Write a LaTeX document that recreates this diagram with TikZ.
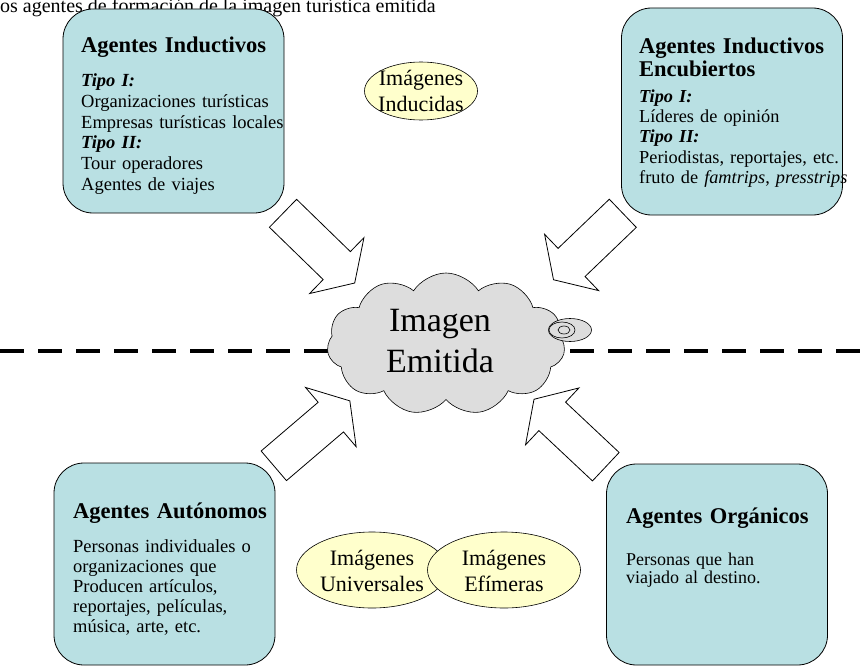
\documentclass[tikz,border=0pt]{standalone}
\usepackage{fontspec}
\setmainfont{Liberation Serif}
\usetikzlibrary{shapes.symbols}
\usetikzlibrary{shapes.geometric}
\usetikzlibrary{positioning}
\definecolor{agentblue}{HTML}{B9E0E3}
\definecolor{imgyellow}{HTML}{FFFFCC}
\definecolor{cloudgrey}{HTML}{DDDDDD}

\tikzset{
	agentbox/.style={
		draw,
		line width=0.8pt,
		fill=agentblue,
		rounded corners=30pt,
		minimum width=221pt,
		minimum height=204pt,
		inner sep=0pt,
	},
	agenttitle/.style={
		anchor=north west,
		align=left,
		text width=220pt,
		inner sep=0pt,
		font=\fontsize{22.5}{23}\selectfont\bfseries,
	},
	agenttext/.style={
		anchor=north west,
		align=left,
		text width=230pt,
		inner sep=0pt,
		font=\fontsize{18.5}{20.5}\selectfont,
	},
	imgellipse/.style={
		draw,
		ellipse,
		line width=0.6pt,
		fill=imgyellow,
		inner sep=0pt,
	},
	imgtext/.style={
		align=center,
		inner sep=0pt,
		font=\fontsize{22}{26}\selectfont,
	},
	bubble/.style={
		draw,
		ellipse,
		line width=0.6pt,
		fill=cloudgrey,
		inner sep=0pt,
	},
	blockarrow/.style={
		draw,
		line width=0.8pt,
		fill=white,
		line join=miter,
	},
	pics/bigarrow/.style={
		code={
			\draw[blockarrow] (0,-19.5) -- ({#1-25},-19.5) -- ({#1-25},-39) -- (#1,0)
				-- ({#1-25},39) -- ({#1-25},19.5) -- (0,19.5) -- cycle;
		}
	},
}

\begin{document}
\begin{tikzpicture}[x=1pt,y=1pt]
\useasboundingbox (0,0) rectangle (861,-666);

\node[anchor=base west, inner sep=0pt, font=\fontsize{20}{24}\selectfont] (titulo) at (0,-12.5)
	{os agentes de formación de la imagen turística emitida};

\draw[line width=4pt, dash pattern=on 24pt off 14pt] (0,-351) -- (861,-351);

\pic[rotate=-44.2] at (283,-213.3) {bigarrow=100};
\pic[rotate=-136.2] at (622.8,-213.3) {bigarrow=96};
\pic[rotate=40.5] at (273.8,-465.8) {bigarrow=100};
\pic[rotate=136.8] at (605.8,-466.7) {bigarrow=98.5};

\node[cloud, cloud puffs=11, cloud puff arc=115, aspect=1.7, draw, line width=0.6pt,
	fill=cloudgrey, minimum width=238pt, minimum height=142pt, inner sep=0pt] (emitida) at (446,-344) {};
\node[align=center, inner sep=0pt, font=\fontsize{34}{41}\selectfont] (emitidatxt) at (440,-341)
	{Imagen\\Emitida};
\node[bubble, minimum width=43pt, minimum height=23pt] (burbuja) at (570,-330) {};
\node[bubble, minimum width=26pt, minimum height=16pt] (burbujamed) at (562,-330) {};
\node[bubble, minimum width=12pt, minimum height=8pt] (burbujamin) at (564,-330) {};

\node[agentbox] (induc) at (173.5,-111) {};
\node[agentbox, minimum height=207pt] (encub) at (732,-111.5) {};
\node[agentbox, minimum height=202pt] (auton) at (164.5,-564) {};
\node[agentbox, minimum height=201pt] (organ) at (717,-564.5) {};

\node[agenttitle] (inductit) at (81,-36.7) {Agentes Inductivos};
\node[agenttext, font=\fontsize{18.5}{20.8}\selectfont] (inductxt) at (81,-73.5) {%
	\textbf{\textit{Tipo I:}}\\
	Organizaciones turísticas\\
	Empresas turísticas locales\\
	\textbf{\textit{Tipo II:}}\\
	Tour operadores\\
	Agentes de viajes};

\node[agenttitle] (encubtit) at (639,-37.7) {Agentes Inductivos\\Encubiertos};
\node[agenttext, font=\fontsize{18.3}{20.25}\selectfont] (encubtxt) at (639,-89.5) {%
	\textbf{\textit{Tipo I:}}\\
	Líderes de opinión\\
	\textbf{\textit{Tipo II:}}\\
	Periodistas, reportajes, etc.\\
	fruto de \textit{famtrips}, \textit{presstrips}};

\node[agenttitle] (autontit) at (73,-502.5) {Agentes Autónomos};
\node[agenttext, font=\fontsize{18.5}{20}\selectfont] (autontxt) at (73,-539.5) {%
	Personas individuales o\\
	organizaciones que\\
	Producen artículos,\\
	reportajes, películas,\\
	música, arte, etc.};

\node[agenttitle] (organtit) at (626,-507.5) {Agentes Orgánicos};
\node[agenttext, font=\fontsize{18}{18}\selectfont] (organtxt) at (626,-552.5) {%
	Personas que han\\
	viajado al destino.};

\node[imgellipse, minimum width=113pt, minimum height=58pt] (inducidas) at (421,-91) {};
\node[imgtext] (inducidastxt) at (421,-91) {Imágenes\\Inducidas};

\node[imgellipse, minimum width=151pt, minimum height=76pt] (universales) at (372,-570) {};
\node[imgellipse, minimum width=153pt, minimum height=76pt] (efimeras) at (504,-570) {};
\node[imgtext] (universalestxt) at (372,-571) {Imágenes\\Universales};
\node[imgtext] (efimerastxt) at (504,-571) {Imágenes\\Efímeras};
\end{tikzpicture}
\end{document}
